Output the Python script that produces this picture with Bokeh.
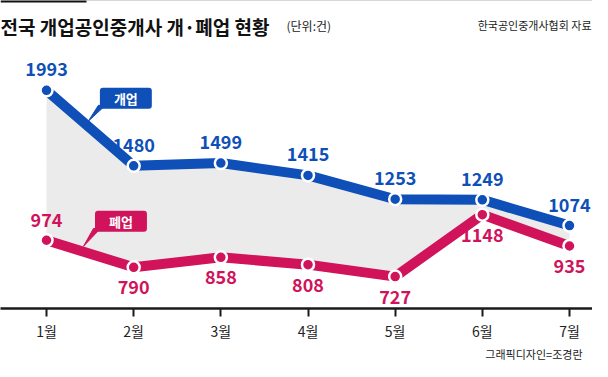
from bokeh.plotting import figure
from bokeh.models import (ColumnDataSource, Range1d, FixedTicker, Label, BoxAnnotation, Title)
from bokeh.core.properties import value
from bokeh.embed import file_html
from bokeh.resources import INLINE

# ---- data ----
months = ["1월", "2월", "3월", "4월", "5월", "6월", "7월"]
opened = [1993, 1480, 1499, 1415, 1253, 1249, 1074]   # 개업
closed = [974, 790, 858, 808, 727, 1148, 935]          # 폐업
closed_label_side = ["above", "below", "below", "below", "below", "below", "below"]

title_text = "전국 개업공인중개사 개·폐업 현황"
unit_text = "(단위:건)"
source_text = "한국공인중개사협회 자료"
credit_text = "그래픽디자인=조경란"

BLUE = "#0e4fb8"
RED = "#d0135a"
FONT = "Noto Sans CJK KR"

W, H = 592, 361
FRAME_H = 312
BOTTOM = H - FRAME_H
X0, X1 = -0.528, 6.264
Y0, Y1 = 510, 2604
PX_X = W / (X1 - X0)          # pixels per x unit
PX_Y = FRAME_H / (Y1 - Y0)    # pixels per y unit

xs = list(range(len(months)))

p = figure(width=W, height=H, output_backend="svg", toolbar_location=None,
           x_range=Range1d(X0, X1), y_range=Range1d(Y0, Y1),
           y_axis_location=None, min_border=0, min_border_bottom=BOTTOM,
           background_fill_color="white", border_fill_color="white")
p.outline_line_color = None
p.grid.visible = False

# x axis
ax = p.xaxis[0]
ax.ticker = FixedTicker(ticks=xs)
ax.major_label_overrides = {i: m for i, m in enumerate(months)}
ax.axis_line_color = "#1a1a1a"
ax.axis_line_width = 2.5
ax.major_tick_line_color = "#1a1a1a"
ax.major_tick_line_width = 2
ax.major_tick_out = 8
ax.major_tick_in = 0
ax.minor_tick_line_color = None
ax.major_label_standoff = 4
ax.major_label_text_font = FONT
ax.major_label_text_font_size = "14px"
ax.major_label_text_color = "#222222"

# credit below the axis
p.add_layout(Title(text=credit_text, align="right", offset=10, standoff=0,
                   text_font=FONT, text_font_size="11px", text_font_style="normal",
                   text_color="#222222"), "below")

# gray area between the series
p.varea(x=xs, y1=closed, y2=opened, fill_color="#ebebeb")

# lines
p.line(xs, opened, line_color=BLUE, line_width=10, line_join="round")
p.line(xs, closed, line_color=RED, line_width=10, line_join="round")
p.scatter(xs, opened, size=12, fill_color=BLUE, line_color="white", line_width=2.5)
p.scatter(xs, closed, size=12, fill_color=RED, line_color="white", line_width=2.5)

# value labels
src_o = ColumnDataSource(dict(x=xs, y=opened, t=[str(v) for v in opened],
                              off=[-21] * len(opened)))
src_c = ColumnDataSource(dict(x=xs, y=closed, t=[str(v) for v in closed],
                              off=[-20 if s == "above" else 20 for s in closed_label_side]))
for src, col in ((src_o, BLUE), (src_c, RED)):
    p.text(x="x", y="y", text="t", y_offset="off", source=src,
           text_font=value(FONT), text_font_style="bold", text_font_size="18px",
           text_color=col, text_align="center", text_baseline="middle")

# callouts
def callout(series, frac, text, color, box_dx, box_dy):
    yv = series[0] + (series[1] - series[0]) * frac
    tip_x = frac
    tip_y = yv + 5.5 / PX_Y
    bx1 = tip_x + 10 / PX_X
    bx2 = tip_x + 17 / PX_X
    by = tip_y + (box_dy - 7) / PX_Y
    p.patch([tip_x, bx1, bx2], [tip_y, by, by], fill_color=color, line_color=color, line_width=1)
    lab = Label(x=tip_x, y=tip_y, x_offset=box_dx, y_offset=box_dy, text=text,
                text_font=FONT, text_font_style="bold", text_font_size="13px",
                text_color="white", text_align="center", text_baseline="middle",
                background_fill_color=color, padding=(14, 1), border_radius=3)
    p.add_layout(lab)

callout(opened, 0.48, "개업", BLUE, 37.5, 23)
callout(closed, 0.424, "폐업", RED, 37.5, 25)

# header texts (screen units, measured from frame bottom)
p.add_layout(BoxAnnotation(left=0, right=86, top=FRAME_H, bottom=FRAME_H - 6,
                           left_units="screen", right_units="screen",
                           top_units="screen", bottom_units="screen",
                           fill_color="#111111", fill_alpha=1, line_color=None))
p.add_layout(BoxAnnotation(left=86, right=W, top=FRAME_H - 2.5, bottom=FRAME_H - 4,
                           left_units="screen", right_units="screen",
                           top_units="screen", bottom_units="screen",
                           fill_color="#666666", fill_alpha=1, line_color=None))
p.add_layout(Label(x=0, y=FRAME_H - 30, x_units="screen", y_units="screen",
                   text=title_text, text_font=FONT, text_font_style="bold",
                   text_font_size="19px", text_color="#111111", text_baseline="middle"))
p.add_layout(Label(x=286, y=FRAME_H - 29, x_units="screen", y_units="screen",
                   text=unit_text, text_font=FONT, text_font_size="12px",
                   text_color="#222222", text_baseline="middle"))
p.add_layout(Label(x=W - 1, y=FRAME_H - 28, x_units="screen", y_units="screen",
                   text=source_text, text_font=FONT, text_font_size="11px",
                   text_color="#222222", text_baseline="middle", text_align="right"))

open("out.html", "w").write(file_html(p, INLINE))
